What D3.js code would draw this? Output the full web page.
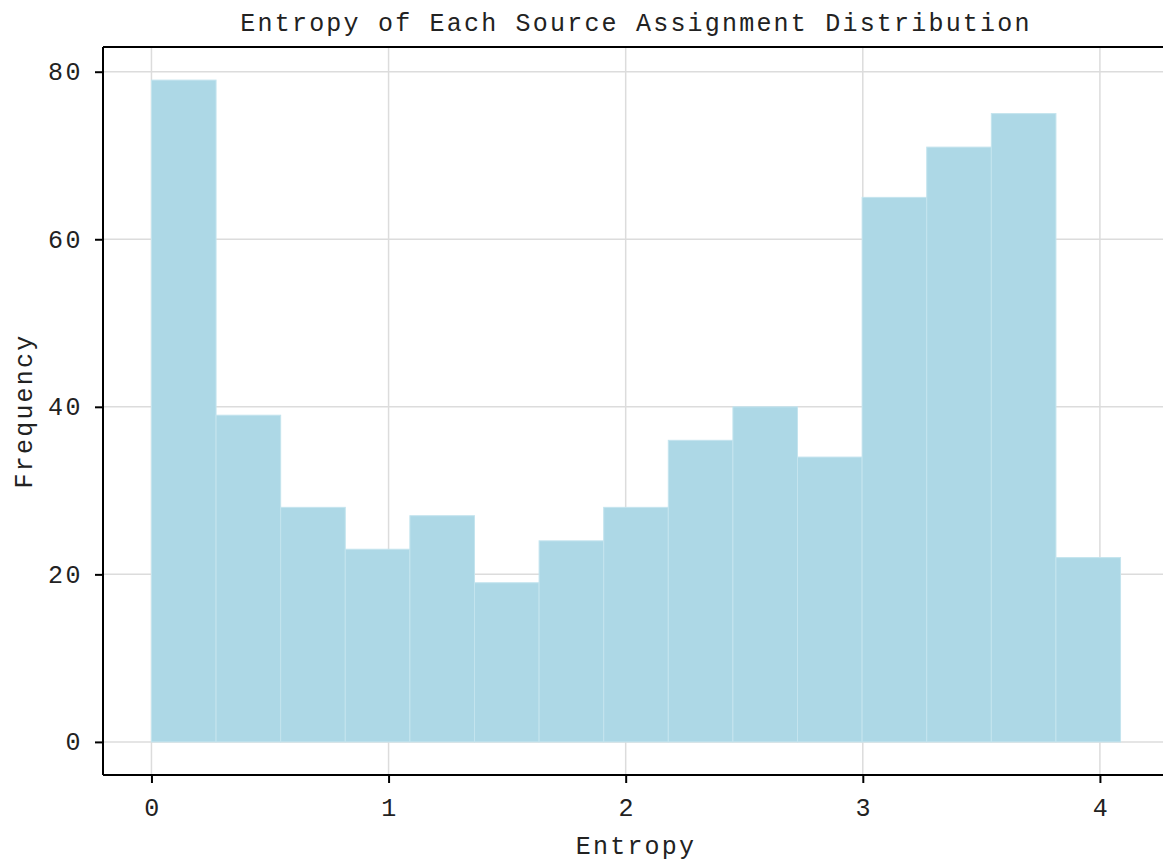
<!DOCTYPE html>
<html>
<head>
<meta charset="utf-8">
<script src="https://cdn.jsdelivr.net/npm/d3@7"></script>
<style>
  body { margin: 0; background: #fff; }
  svg text { font-family: "Liberation Mono", "DejaVu Sans Mono", monospace; fill: #222; }
</style>
</head>
<body>
<div id="chart"></div>
<script>
// histogram bins (15 equal bins from 0 to log2(17))
const binStart = 0;
const binEnd = 4.087;
const counts = [79, 39, 28, 23, 27, 19, 24, 28, 36, 40, 34, 65, 71, 75, 22];
const xTicks = [0, 1, 2, 3, 4];
const yTicks = [0, 20, 40, 60, 80];

const W = 1163, H = 861;
const margin = { top: 47, right: -6, bottom: 86, left: 103 };
const width = W - margin.left - margin.right;
const height = H - margin.top - margin.bottom;

const binW = (binEnd - binStart) / counts.length;
const bins = counts.map((c, i) => ({ x0: binStart + i * binW, x1: binStart + (i + 1) * binW, count: c }));

const svg = d3.select("#chart").append("svg")
    .attr("width", W)
    .attr("height", H);

const g = svg.append("g")
    .attr("transform", `translate(${margin.left},${margin.top})`);

const padX = (binEnd - binStart) * 0.05;
const x = d3.scaleLinear()
    .domain([binStart - padX, binEnd + padX])
    .range([0, width]);

const yMax = d3.max(counts);
const y = d3.scaleLinear()
    .domain([-yMax * 0.05, yMax * 1.05])
    .range([height, 0]);

// grid
g.append("g").selectAll("line")
    .data(yTicks).enter().append("line")
    .attr("x1", 0).attr("x2", width)
    .attr("y1", d => y(d)).attr("y2", d => y(d))
    .style("stroke", "#dcdcdc").style("stroke-width", 1.5);

g.append("g").selectAll("line")
    .data(xTicks).enter().append("line")
    .attr("x1", d => x(d)).attr("x2", d => x(d))
    .attr("y1", 0).attr("y2", height)
    .style("stroke", "#dcdcdc").style("stroke-width", 1.5);

// bars
g.selectAll(".bar")
    .data(bins).enter().append("rect")
    .attr("class", "bar")
    .attr("x", d => x(d.x0))
    .attr("y", d => y(d.count))
    .attr("width", d => x(d.x1) - x(d.x0))
    .attr("height", d => y(0) - y(d.count))
    .style("fill", "#add8e6")
    .style("stroke", "#c4e4ee")
    .style("stroke-width", 1);

// axes
const xAxis = g.append("g")
    .attr("transform", `translate(0,${height})`)
    .call(d3.axisBottom(x).tickValues(xTicks).tickSize(8).tickPadding(15).tickFormat(d3.format("d")));

const yAxis = g.append("g")
    .call(d3.axisLeft(y).tickValues(yTicks).tickSize(8).tickPadding(12).tickFormat(d3.format("d")));

[xAxis, yAxis].forEach(a => {
    a.select(".domain").remove();
    a.selectAll(".tick line").style("stroke", "#000").style("stroke-width", 2);
    a.selectAll(".tick text")
        .style("font-size", "25px")
        .style("letter-spacing", "2.5px")
        .style("font-family", "'Liberation Mono', monospace")
        .attr("fill", "#2a2a2a");
});
xAxis.selectAll(".tick text").attr("dx", "1px");

// spines: left, bottom, top
g.append("line").attr("x1", 0).attr("x2", 0).attr("y1", 0).attr("y2", height)
    .style("stroke", "#000").style("stroke-width", 2);
g.append("line").attr("x1", 0).attr("x2", width).attr("y1", height).attr("y2", height)
    .style("stroke", "#000").style("stroke-width", 2);
g.append("line").attr("x1", 0).attr("x2", width).attr("y1", 0).attr("y2", 0)
    .style("stroke", "#000").style("stroke-width", 2);

// labels
const labelStyle = sel => sel
    .attr("text-anchor", "middle")
    .style("font-size", "25px")
    .style("letter-spacing", "2.2px");

svg.append("text")
    .attr("x", margin.left + width / 2)
    .attr("y", 31)
    .call(labelStyle)
    .text("Entropy of Each Source Assignment Distribution");

svg.append("text")
    .attr("x", margin.left + width / 2)
    .attr("y", 854)
    .call(labelStyle)
    .text("Entropy");

svg.append("text")
    .attr("transform", `translate(32,${margin.top + height / 2}) rotate(-90)`)
    .call(labelStyle)
    .text("Frequency");
</script>
</body>
</html>
